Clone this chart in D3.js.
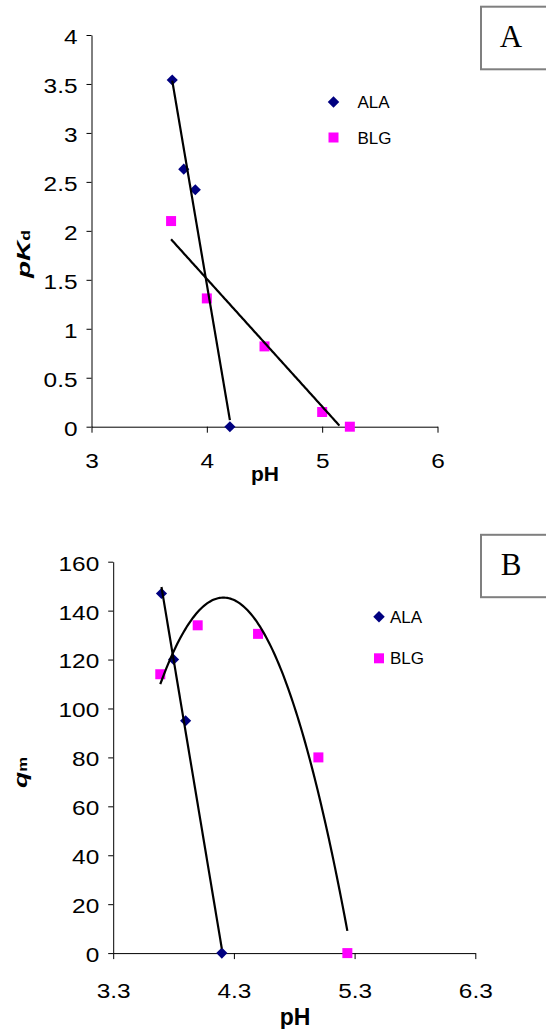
<!DOCTYPE html>
<html>
<head>
<meta charset="utf-8">
<script src="https://cdn.jsdelivr.net/npm/d3@7"></script>
<style>
	body { margin: 0; background: #fff; }
	svg { display: block; }
	.tick text { font-family: 'Liberation Sans', Arial, sans-serif; fill: #000; }
	.domain, .tick line { stroke: #000; }
</style>
</head>
<body>
<svg id="chart" width="546" height="1029"></svg>
<script>
// panel A : pKd vs pH
var phAla = [3.7, 3.8, 3.9, 4.2];
var pkdAla = [3.54, 2.63, 2.42, 0];
var phBlg = [3.69, 4.0, 4.5, 5.0, 5.24];
var pkdBlg = [2.10, 1.31, 0.82, 0.15, 0];
var pkdTicks = [0, 0.5, 1, 1.5, 2, 2.5, 3, 3.5, 4];
var phTicksA = [3, 4, 5, 6];

// panel B : qm vs pH
var qmAla = [147, 120, 95, 0];
var qmBlg = [114, 134, 130.5, 80, 0];
var qmTicks = [0, 20, 40, 60, 80, 100, 120, 140, 160];
var phTicksB = [3.3, 4.3, 5.3, 6.3];

var seriesNames = ['ALA', 'BLG'];
var colors = { ALA: '#000080', BLG: '#ff00ff' };

var svg = d3.select('#chart');
var fmt = d3.format('~g');

function stretch(sel, k) {
	sel.each(function () {
		var w = this.getComputedTextLength();
		d3.select(this).attr('textLength', w * k).attr('lengthAdjust', 'spacingAndGlyphs');
	});
}

function linFit(xs, ys) {
	var mx = d3.mean(xs), my = d3.mean(ys), sxy = 0, sxx = 0, i;
	for (i = 0; i < xs.length; i = i + 1) {
		sxy += (xs[i] - mx) * (ys[i] - my);
		sxx += (xs[i] - mx) * (xs[i] - mx);
	}
	var b = sxy / sxx;
	return function (x) { return my + b * (x - mx); };
}

// least squares polynomial (centred x), solved by gaussian elimination
function polyFit(xs, ys, order) {
	var mx = d3.mean(xs), n = order + 1, A = [], i, j, k, r, f, c = [];
	for (i = 0; i < n; i = i + 1) {
		A.push([]);
		for (j = 0; j <= n; j = j + 1) { A[i].push(0); }
	}
	xs.forEach(function (x, p) {
		var t = x - mx;
		for (i = 0; i < n; i = i + 1) {
			for (j = 0; j < n; j = j + 1) { A[i][j] += Math.pow(t, i + j); }
			A[i][n] += ys[p] * Math.pow(t, i);
		}
	});
	for (k = 0; k < n; k = k + 1) {
		for (r = k + 1; r < n; r = r + 1) {
			f = A[r][k] / A[k][k];
			for (j = k; j <= n; j = j + 1) { A[r][j] -= f * A[k][j]; }
		}
	}
	for (i = n - 1; i >= 0; i = i - 1) {
		c[i] = A[i][n];
		for (j = i + 1; j < n; j = j + 1) { c[i] -= A[i][j] * c[j]; }
		c[i] /= A[i][i];
	}
	return function (x) {
		var t = x - mx, s = 0;
		for (i = 0; i < n; i = i + 1) { s += c[i] * Math.pow(t, i); }
		return s;
	};
}

function drawPanel(cfg) {
	var g = svg.append('g'), x = cfg.x, y = cfg.y;

	g.append('g').attr('transform', 'translate(0,' + y(0) + ')')
		.call(d3.axisBottom(x).tickValues(cfg.xTicks).tickFormat(fmt).tickSize(6).tickSizeOuter(0).tickPadding(cfg.xPad))
		.call(function (a) {
			a.selectAll('text').style('font-size', '20px');
			stretch(a.selectAll('text'), 1.22);
		});

	g.append('g').attr('transform', 'translate(' + x.range()[0] + ',0)')
		.call(d3.axisLeft(y).tickValues(cfg.yTicks).tickFormat(fmt).tickSize(5).tickSizeOuter(0).tickPadding(9))
		.call(function (a) {
			a.selectAll('text').style('font-size', '20px').attr('dy', '0.42em');
			stretch(a.selectAll('text'), 1.22);
		});

	// markers
	g.append('g').selectAll('path').data(cfg.ala).enter().append('path')
		.attr('d', d3.symbol(d3.symbolSquare, 62))
		.attr('transform', function (d) { return 'translate(' + x(d[0]) + ',' + y(d[1]) + ') rotate(45)'; })
		.style('fill', colors.ALA);
	g.append('g').selectAll('path').data(cfg.blg).enter().append('path')
		.attr('d', d3.symbol(d3.symbolSquare, 100))
		.attr('transform', function (d) { return 'translate(' + x(d[0]) + ',' + y(d[1]) + ')'; })
		.style('fill', colors.BLG);

	// trend lines
	var line = d3.line().x(function (d) { return x(d[0]); }).y(function (d) { return y(d[1]); });
	cfg.trends.forEach(function (t) {
		var x0 = d3.min(t.xs), x1 = d3.max(t.xs), pts = [], i, xv;
		for (i = 0; i <= 120; i = i + 1) {
			xv = x0 + (x1 - x0) * i / 120;
			if (t.f(xv) >= 0) { pts.push([xv, t.f(xv)]); }
		}
		g.append('path').attr('d', line(pts))
			.style('fill', 'none').style('stroke', '#000').style('stroke-width', 2.2);
	});

	// legend
	var lg = g.append('g').attr('transform', 'translate(' + cfg.legend[0] + ',' + cfg.legend[1] + ')');
	seriesNames.forEach(function (name, i) {
		var row = lg.append('g').attr('transform', 'translate(0,' + i * cfg.legendStep + ')');
		row.append('path')
			.attr('d', d3.symbol(d3.symbolSquare, name === 'ALA' ? 66 : 100))
			.attr('transform', name === 'ALA' ? 'rotate(45)' : null)
			.style('fill', colors[name]);
		row.append('text').attr('x', cfg.legendGap).attr('y', 6)
			.style('font-family', "'Liberation Sans', Arial, sans-serif").style('font-size', '17px')
			.text(name);
	});

	// panel letter box
	g.append('rect').attr('x', 481).attr('y', cfg.box[0]).attr('width', 80).attr('height', cfg.box[1] - cfg.box[0])
		.style('fill', '#fff').style('stroke', '#7f7f7f').style('stroke-width', 2);
	g.append('text').attr('x', 511).attr('y', cfg.box[2]).attr('text-anchor', 'middle')
		.style('font-family', "'Liberation Serif', 'Times New Roman', serif").style('font-size', '31px')
		.text(cfg.letter);

	// axis titles
	g.append('text').attr('x', cfg.xTitle[0]).attr('y', cfg.xTitle[1]).attr('text-anchor', 'middle')
		.style('font-family', "'Liberation Sans', Arial, sans-serif").style('font-weight', 'bold')
		.style('font-size', cfg.xTitle[2] + 'px').text('pH');

	var yt = g.append('text')
		.attr('transform', 'translate(' + cfg.yTitle[0] + ',' + cfg.yTitle[1] + ') rotate(-90)')
		.attr('text-anchor', 'middle')
		.style('font-family', "'Liberation Sans', Arial, sans-serif").style('font-weight', 'bold');
	yt.append('tspan').style('font-style', 'italic').style('font-size', '19px').text(cfg.yTitle[2]);
	yt.append('tspan').style('font-size', '12px').text(cfg.yTitle[3]);
	yt.attr('textLength', cfg.yTitle[4]).attr('lengthAdjust', 'spacingAndGlyphs');
}

drawPanel({
	x: d3.scaleLinear().domain([3, 6]).range([91.5, 437.5]),
	y: d3.scaleLinear().domain([0, 4]).range([426.7, 35]),
	xTicks: phTicksA, yTicks: pkdTicks, xPad: 21,
	ala: d3.zip(phAla, pkdAla), blg: d3.zip(phBlg, pkdBlg),
	trends: [
		{ xs: phAla, f: linFit(phAla, pkdAla) },
		{ xs: phBlg, f: linFit(phBlg, pkdBlg) }
	],
	legend: [333.5, 102], legendStep: 35.5, legendGap: 24,
	box: [6.7, 69.3, 46.7], letter: 'A',
	xTitle: [265, 481, 21],
	yTitle: [30, 254, 'pK', 'd', 48]
});

drawPanel({
	x: d3.scaleLinear().domain([3.3, 6.3]).range([113.2, 475.3]),
	y: d3.scaleLinear().domain([0, 160]).range([953.1, 561.7]),
	xTicks: phTicksB, yTicks: qmTicks, xPad: 25,
	ala: d3.zip(phAla, qmAla), blg: d3.zip(phBlg, qmBlg),
	trends: [
		{ xs: phAla, f: linFit(phAla, qmAla) },
		{ xs: phBlg, f: polyFit(phBlg, qmBlg, 2) }
	],
	legend: [379, 616.7], legendStep: 41.6, legendGap: 11,
	box: [534.8, 597.2, 574.9], letter: 'B',
	xTitle: [295, 1025, 23],
	yTitle: [27, 772.5, 'q', 'm', 31]
});
</script>
</body>
</html>
